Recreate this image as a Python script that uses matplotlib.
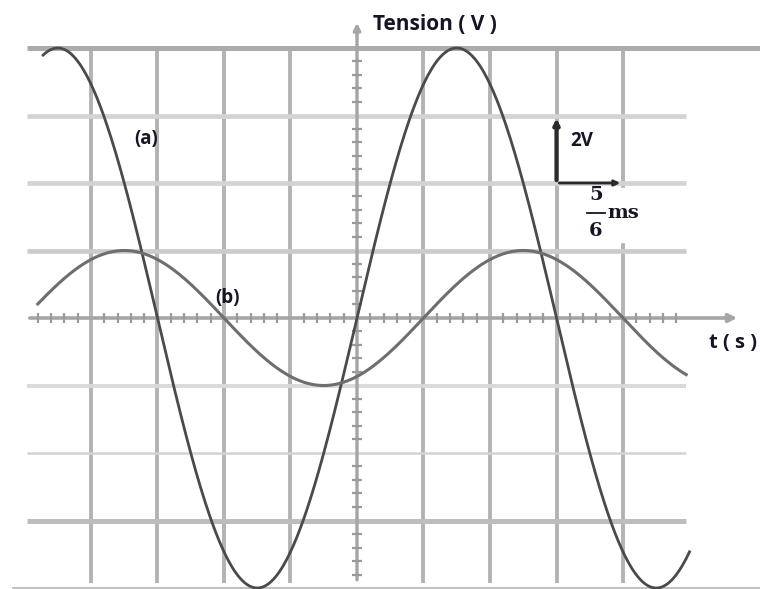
"""Oscilloscope screen: two sinusoidal tensions (a) and (b)."""

import matplotlib
matplotlib.use("Agg")
import matplotlib.pyplot as plt
import numpy as np

amplitudes = [4.0, 1.0]          # (a), (b)
periods = [6.0, 6.0]
peak_positions = [1.5, 2.5]       # time (div) of a maximum
trace_start = [-4.72, -4.8]
trace_end = [5.0, 4.95]
labels = ["(a)", "(b)"]
vgrid = [-4, -3, -2, -1, 1, 2, 3, 4]
hgrid = [3, 2, 1, -1, -2, -3]
hgrid_style = {3: (3.4, "#d3d3d3"), 2: (3.4, "#d3d3d3"), 1: (3.4, "#cbcbcb"),
               -1: (2.8, "#d9d9d9"), -2: (1.8, "#d3d3d3"), -3: (3.6, "#bdbdbd")}

X0, SX, Y0, SY = 357, 66.5, 318, 67.5   # pixel of origin, pixels per division
def px(x, y): return (x - X0) / SX, (Y0 - y) / SY

fig = plt.figure(figsize=(7.6, 5.89), dpi=100)
ax = fig.add_axes([0, 0, 1, 1]); ax.set_axis_off()
ax.set_xlim(px(0, 0)[0], px(760, 0)[0]); ax.set_ylim(px(0, 589)[1], px(0, 0)[1])

xl, xr = px(27, 0)[0], px(686, 0)[0]
for v in vgrid:
    ax.plot([v, v], [-3.92, 4], color="#b3b3b3", lw=2.8, zorder=1, solid_capstyle="butt")
for h in hgrid:
    w, c = hgrid_style[h]; ax.plot([xl, xr], [h, h], color=c, lw=w, zorder=1, solid_capstyle="butt")
ax.plot([xl, px(760, 0)[0]], [4, 4], color="#ababab", lw=3.6, zorder=1, solid_capstyle="butt")
ax.plot([px(13, 0)[0], px(760, 0)[0]], [px(0, 588)[1]] * 2, color="#b5b5b5", lw=1.2, zorder=1)

# axes with arrows and small ticks
ax.annotate("", xy=(px(740, 0)[0], 0), xytext=(xl, 0), zorder=2,
            arrowprops=dict(arrowstyle="-|>", color="#a5a5a5", lw=2.6, mutation_scale=12))
ax.annotate("", xy=(0, px(0, 20)[1]), xytext=(0, -3.92), zorder=2,
            arrowprops=dict(arrowstyle="-|>", color="#a5a5a5", lw=2.4, mutation_scale=10))
tx = np.arange(-4.8, 4.81, 0.2); tx = tx[np.abs(tx - np.round(tx)) > 0.05]
ax.vlines(tx, -0.07, 0.07, color="#9a9a9a", lw=1.6, zorder=2)
ty = np.arange(-3.8, 3.81, 0.2); ty = ty[np.abs(ty - np.round(ty)) > 0.05]
ax.hlines(ty, -0.07, 0.07, color="#9a9a9a", lw=1.6, zorder=2)

# traces
for A, T, p, a, b, col, lw in zip(amplitudes, periods, peak_positions, trace_start, trace_end,
                                  ["#4a4a4a", "#6e6e6e"], [2.0, 2.2]):
    t = np.linspace(a, b, 600)
    ax.plot(t, A * np.cos(2 * np.pi * (t - p) / T), color=col, lw=lw, zorder=4)

font = dict(family=["Open Sans", "DejaVu Sans"], fontweight="bold", color="#151525", zorder=6)
ax.text(*px(373, 24), "Tension ( V )", fontsize=15, ha="left", va="center", **font)
ax.text(*px(709, 343), "t ( s )", fontsize=14.5, ha="left", va="center", **font)
ax.text(*px(134, 139), labels[0], fontsize=13.5, ha="left", va="center", **font)
ax.text(*px(215, 298), labels[1], fontsize=13.5, ha="left", va="center", **font)

# scale indicator: 1 div = 2 V, 1 div = 5/6 ms
ax.add_patch(plt.Rectangle(px(575, 242), 53 / SX, 54 / SY, color="white", zorder=3))
ax.annotate("", xy=(3, 3), xytext=(3, 2), zorder=5,
            arrowprops=dict(arrowstyle="-|>", color="#2b2b2b", lw=3, mutation_scale=8))
ax.annotate("", xy=(4, 2), xytext=(3, 2), zorder=5,
            arrowprops=dict(arrowstyle="-|>", color="#2b2b2b", lw=2, mutation_scale=8))
ax.text(*px(570, 141), "2V", fontsize=13.5, ha="left", va="center", **font)
serif = dict(family=["DejaVu Serif"], fontweight="bold", color="#151525", zorder=6)
ax.text(*px(596, 195), "5", fontsize=14, ha="center", va="center", **serif)
ax.text(*px(596, 231), "6", fontsize=14, ha="center", va="center", **serif)
ax.plot([px(587, 0)[0], px(605, 0)[0]], [px(0, 213)[1]] * 2, color="#151525", lw=1.3, zorder=6)
ax.text(*px(607, 213), "ms", fontsize=14, ha="left", va="center", **serif)

fig.savefig("out.png", dpi=100, facecolor="white")
